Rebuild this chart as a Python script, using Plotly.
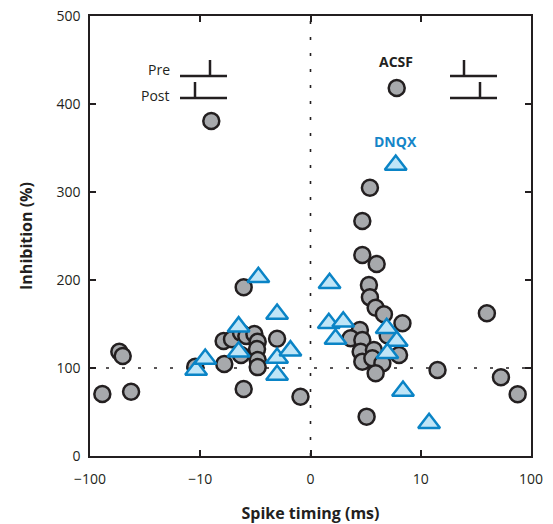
import numpy as np
import plotly.graph_objects as go

# ACSF (circles): spike timing (ms), inhibition (%)
acsf_x = [-77.3, -54.2, -50.5, -42.4, -11.1, -9.0, -7.88, -7.82, -7.12, -6.3, -6.3,
          -6.06, -6.06, -5.82, -5.09, -4.79, -4.85, -4.79, -4.79, -3.03, -0.91,
          4.48, 3.64, 4.7, 4.55, 4.7, 5.09, 4.7, 4.7, 5.39, 6.0, 5.3, 5.39, 5.91,
          6.66, 8.34, 5.75, 5.61, 6.52, 5.91, 8.03, 7.0, 7.82, 39.8, 14.2, 53.4, 75.7]
acsf_y = [70.5, 118.5, 113.6, 73.0, 101.5, 380.7, 130.7, 104.5, 132.6, 114.8, 140.0,
          191.7, 76.1, 136.4, 138.6, 129.9, 121.6, 109.0, 101.0, 133.3, 67.4,
          143.2, 133.8, 131.8, 118.5, 107.2, 44.7, 267.0, 228.4, 304.9, 218.2, 194.3,
          180.3, 168.5, 161.0, 150.8, 120.5, 111.0, 105.3, 94.0, 114.8, 137.0, 418.2,
          162.2, 97.7, 89.4, 70.1]

# DNQX (triangles)
dnqx_x = [-10.9, -9.55, -6.52, -6.52, -4.73, -3.03, -3.03, -3.03, -1.82,
          1.73, 1.66, 2.97, 2.27, 6.91, 7.82, 6.97, 8.39, 11.9, 7.73]
dnqx_y = [97.7, 110.2, 118.5, 147.0, 203.0, 161.4, 111.4, 92.0, 119.7,
          196.3, 150.8, 152.6, 133.0, 145.1, 130.7, 116.7, 73.9, 37.2, 330.7]

x_tick_vals_ms = [-100, -10, 0, 10, 100]
x_tick_text = ["\u2212100", "\u221210", "0", "10", "100"]
y_tick_vals = [0, 100, 200, 300, 400, 500]


def tx(v):
    """Axis transform: linear within +/-10 ms, logarithmic beyond."""
    v = np.asarray(v, dtype=float)
    a = np.abs(v)
    return np.where(a <= 10, v / 10.0, np.sign(v) * (1 + np.log10(np.maximum(a, 1e-9) / 10.0)))


DARK = "#231f20"
FONT = "Open Sans"

fig = go.Figure()

fig.add_trace(go.Scatter(
    x=tx(acsf_x), y=acsf_y, mode="markers", name="ACSF",
    marker=dict(symbol="circle", size=16, color="#a7a9ac",
                line=dict(color=DARK, width=2.5)),
    showlegend=False))

fig.add_trace(go.Scatter(
    x=tx(dnqx_x), y=dnqx_y, mode="markers", name="DNQX",
    marker=dict(symbol="triangle-up", size=19, color="#bfe5f7",
                line=dict(color="#0a84c6", width=2.5)),
    showlegend=False))

# reference dotted lines
fig.add_shape(type="line", xref="x", yref="paper", x0=0, x1=0, y0=0, y1=1,
              line=dict(color=DARK, width=1.6, dash="3px,13px"), layer="below")
fig.add_shape(type="line", xref="paper", yref="y", x0=0, x1=1, y0=100, y1=100,
              line=dict(color=DARK, width=1.6, dash="3px,13px"), layer="below")


def px2paper(px, py):
    return (px - 90) / 441.0, (456 - py) / 440.0


def seg(p0, p1):
    x0, y0 = px2paper(*p0)
    x1, y1 = px2paper(*p1)
    fig.add_shape(type="line", xref="paper", yref="paper", x0=x0, y0=y0, x1=x1, y1=y1,
                  line=dict(color=DARK, width=2.5))


# Pre/Post schematic (left)
seg((180, 76), (227, 76)); seg((210, 60), (210, 76))
seg((180, 98), (227, 98)); seg((195, 82), (195, 98))
# schematic (right)
seg((450, 76), (497, 76)); seg((464, 60), (464, 76))
seg((450, 98), (497, 98)); seg((480, 82), (480, 98))

for txt, (px, py), col, bold, anchor in [
    ("Pre", (172, 69), DARK, False, "right"),
    ("Post", (172, 95), DARK, False, "right"),
    ("ACSF", (396, 62), DARK, True, "center"),
    ("DNQX", (395, 141), "#1585c8", True, "center"),
]:
    xp, yp = px2paper(px, py)
    fig.add_annotation(x=xp, y=yp, xref="paper", yref="paper", text=txt, showarrow=False,
                       xanchor=anchor, yanchor="middle",
                       font=dict(family=FONT, size=14, color=col, weight=700 if bold else 400))

axis_common = dict(showline=True, linecolor=DARK, linewidth=1.5, mirror="ticks",
                   ticks="inside", ticklen=6, tickwidth=1.5, tickcolor=DARK,
                   showgrid=False, zeroline=False, automargin=False,
                   tickfont=dict(family=FONT, size=14, color=DARK))

fig.update_xaxes(range=[-2, 2], tickmode="array", tickvals=list(tx(x_tick_vals_ms)),
                 ticktext=x_tick_text, ticklabelstandoff=9,
                 title=dict(text="Spike timing (ms)", standoff=36,
                            font=dict(family=FONT, size=16, color=DARK, weight=700)),
                 **axis_common)
fig.update_yaxes(range=[0, 500], tickmode="array", tickvals=y_tick_vals,
                 ticklabelstandoff=5,
                 title=dict(text="Inhibition (%)", standoff=20,
                            font=dict(family=FONT, size=16, color=DARK, weight=700)),
                 **axis_common)

fig.update_layout(width=553, height=524, margin=dict(l=90, r=22, t=16, b=68),
                  plot_bgcolor="white", paper_bgcolor="white")

fig.write_html("out.html", config={"displayModeBar": False},
               post_script="document.body.style.margin='0';")
